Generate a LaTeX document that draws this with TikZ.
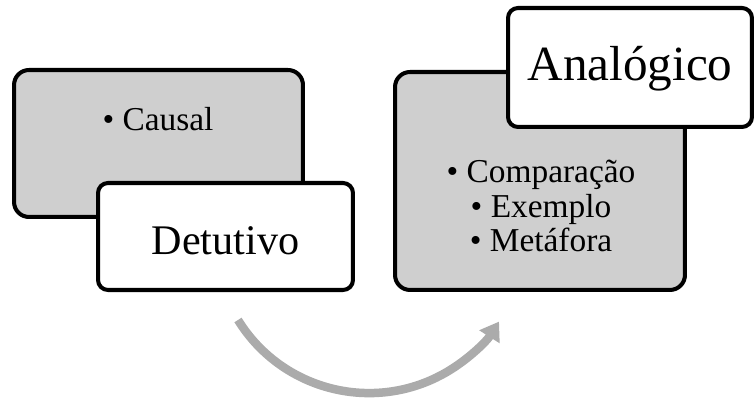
\documentclass[tikz,border=0pt]{standalone}
\usepackage{fontspec}
\setmainfont{Liberation Serif}
\usetikzlibrary{arrows.meta}
\definecolor{boxgray}{HTML}{CFCFCF}
\definecolor{arrowgray}{HTML}{ABABAB}
\tikzset{
  graybox/.style={
    minimum width=5.78cm,
    minimum height=2.94cm,
    fill=boxgray,
    draw=black,
    line width=2.3pt,
    rounded corners=0.3cm
  },
  titlebox/.style={
    align=center,
    fill=white,
    draw=black,
    line width=2.3pt,
    rounded corners=0.2cm
  },
  itemtext/.style={
    align=center,
    font=\fontsize{19}{19.4}\selectfont
  },
  flow/.style={draw=arrowgray, line width=0.17cm, -{Triangle[width=0.46cm,length=0.36cm]}}
}
\begin{document}
\begin{tikzpicture}[x=0.02cm, y=0.02cm]
    \useasboundingbox (0,0) rectangle (755,398);
    % left pair
    \node (causal) [graybox] at (158.5,254.5) {};
    \node (causaltext) [itemtext] at (158,279) {\textbullet{} Causal};
    \node (detutivo) [titlebox, minimum width=5.1cm, minimum height=2.14cm,
      text height=20.6pt, font=\fontsize{24}{28}\selectfont] at (225.5,161.5) {Detutivo};
    % right pair
    \node (analogia) [graybox, minimum width=5.8cm, minimum height=4.36cm] at (540,217) {};
    \node (analogiatext) [itemtext] at (541,192) {\textbullet{} Comparação \\
      \textbullet{} Exemplo \\ \textbullet{} Metáfora};
    \node (analogico) [titlebox, minimum width=4.88cm, minimum height=2.38cm,
      text height=21pt, font=\fontsize{28}{32}\selectfont] at (630,330.5) {Analógico};
    % curved arrow
    \coordinate (arcstart) at (238,78);
    \draw [flow] (arcstart) arc[start angle=211.7, end angle=327.6, radius=154];
\end{tikzpicture}
\end{document}
